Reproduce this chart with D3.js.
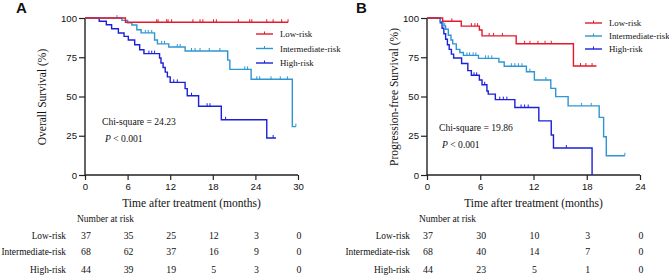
<!DOCTYPE html>
<html>
<head>
<meta charset="utf-8">
<script src="https://cdn.jsdelivr.net/npm/d3@7"></script>
<style>
  body { margin: 0; background: #fff; }
  svg { display: block; }
  .serif { font-family: "Liberation Serif", "Times New Roman", serif; fill: #111; }
  .sans { font-family: "Liberation Sans", Arial, sans-serif; fill: #111; }
</style>
</head>
<body>
<script>
var width = 669
var height = 275

var groups = ["Low-risk", "Intermediate-risk", "High-risk"]
var colors = ["#e3192d", "#2e96d2", "#1c20d8"]
var yTicks = [0, 25, 50, 75, 100]

// panel A: overall survival, steps are [month, survival %]
var osLow = [[0, 100], [5.7, 97.3]]
var osLowEnd = 28.6
var osLowCens = [10.1, 10.3, 11.5, 11.7, 12.2, 15.2, 16.2, 16.6, 18.1, 18.5, 21.6, 23.2, 23.5, 25.6, 26.5, 27.7, 28.6]
var osMid = [[0, 100], [5.2, 98.5], [6.0, 97], [6.6, 95.5], [7.3, 92.5], [7.9, 90.5], [9.8, 86], [10.2, 83.5],
             [11.8, 81.5], [14.1, 79], [20.1, 73.2], [20.4, 67.3], [23.4, 61], [29.2, 30.8]]
var osMidEnd = 29.7
var osMidCens = [4.5, 8.5, 8.9, 9.4, 10.8, 11.2, 13.0, 13.4, 15.0, 15.5, 16.2, 17.5, 19.0, 22.5, 22.9, 24.2, 24.6, 26.2, 27.5, 28.5, 29.7]
var osHigh = [[0, 100], [2.0, 97.9], [3.0, 95.7], [3.75, 93.2], [4.7, 90.4], [5.5, 88.3], [6.1, 86], [7.0, 83],
              [7.7, 79.8], [8.3, 77.3], [10.5, 74.5], [10.7, 71.3], [11.0, 68.5], [11.3, 65.5], [11.6, 62.5],
              [12.0, 59], [14.1, 55], [14.4, 50.5], [16.0, 43.8], [19.2, 35.2], [25.6, 23.6]]
var osHighEnd = 26.9
var osHighCens = [9.0, 9.4, 9.8, 12.5, 13.0, 15.0, 17.2, 17.6, 19.8, 26.5]
var osTicks = [0, 6, 12, 18, 24, 30]
var osRisk = [[37, 35, 25, 12, 3, 0], [68, 62, 37, 16, 9, 0], [44, 39, 19, 5, 3, 0]]

// panel B: progression-free survival
var pfsLow = [[0, 100], [1.76, 97.9], [3.86, 94.8], [5.9, 92.4], [6.2, 88.6], [10.05, 83.6], [16.5, 69.4]]
var pfsLowEnd = 19.1
var pfsLowCens = [2.8, 5.0, 5.4, 5.7, 7.0, 7.5, 8.5, 11.0, 11.6, 12.5, 13.3, 14.0, 17.3, 17.9, 18.6]
var pfsMid = [[0, 100], [1.5, 97.7], [1.8, 95], [2.1, 92.8], [2.4, 89], [2.7, 86], [2.9, 83.5], [3.3, 80],
              [3.7, 78], [4.1, 76.2], [5.8, 74.3], [8.1, 72], [8.7, 69.3], [11.2, 65.8], [12.1, 60.5],
              [13.95, 55.2], [14.5, 49.9], [15.9, 44], [19.4, 36.7], [19.9, 24.4], [20.2, 12.3]]
var pfsMidEnd = 22.3
var pfsMidCens = [2.0, 4.5, 4.8, 5.2, 5.5, 6.6, 6.9, 7.3, 9.5, 9.9, 10.3, 10.7, 11.6, 13.4, 17.4, 18.5, 22.3]
var pfsHigh = [[0, 100], [1.5, 97], [1.7, 93.5], [1.9, 90], [2.1, 86.5], [2.3, 83], [2.5, 80], [2.75, 77],
               [3.0, 74.5], [3.9, 71], [4.6, 66.5], [5.0, 63.5], [5.9, 60.5], [6.2, 57.5], [6.75, 53.5],
               [6.9, 51.5], [7.7, 48], [9.9, 43], [12.6, 34.5], [14.0, 25.5], [14.25, 17.2], [18.6, 0]]
var pfsHighEnd = 18.6
var pfsHighCens = [5.3, 5.6, 6.5, 8.2, 8.6, 9.0, 10.6, 11.0, 11.4, 15.7]
var pfsTicks = [0, 6, 12, 18, 24]
var pfsRisk = [[37, 30, 10, 3, 0], [68, 40, 14, 7, 0], [44, 23, 5, 1, 0]]

var svg = d3.select("body")
    .append("svg")
    .attr("width", width)
    .attr("height", height);

function stepPoints(steps, end) {
    var pts = []
    steps.forEach(function (s, i) {
        if (i > 0) pts.push([s[0], steps[i - 1][1]])
        pts.push(s)
    })
    pts.push([end, steps[steps.length - 1][1]])
    return pts
}

function survAt(steps, t) {
    var v = 100
    steps.forEach(function (s) { if (s[0] <= t) v = s[1] })
    return v
}

function drawPanel(p) {
    var g = svg.append("g")
    var x = d3.scaleLinear().domain([0, p.xMax]).range([p.x0, p.x1])
    var y = d3.scaleLinear().domain([0, 100]).range([175, 18])

    g.append("text").attr("class", "sans")
        .attr("x", p.letterX).attr("y", 13)
        .style("font-size", "15px").style("font-weight", "bold")
        .text(p.letter)

    var yAxis = g.append("g")
        .attr("transform", "translate(" + p.x0 + ",0)")
        .call(d3.axisLeft(y).tickValues(yTicks).tickSize(6).tickPadding(2))
    var xAxis = g.append("g")
        .attr("transform", "translate(0,175)")
        .call(d3.axisBottom(x).tickValues(p.ticks).tickSize(5).tickPadding(3))
    ;[yAxis, xAxis].forEach(function (a) {
        a.select(".domain").attr("stroke", "#222").attr("stroke-width", 1.4)
        a.selectAll(".tick line").attr("stroke", "#222").attr("stroke-width", 1.2)
        a.selectAll(".tick text").attr("class", "sans")
            .style("font-size", "9.6px").attr("fill", "#111")
    })
    yAxis.select(".domain").attr("d", "M0,175V18")
    xAxis.select(".domain").attr("d", "M" + p.x0 + ",0H" + p.x1)

    g.append("text").attr("class", "serif")
        .attr("transform", "translate(" + p.yTitleX + ",97) rotate(-90)")
        .attr("text-anchor", "middle").attr("dy", "0.35em")
        .style("font-size", "11.5px")
        .text(p.yTitle)

    g.append("text").attr("class", "serif")
        .attr("x", (p.x0 + p.x1) / 2).attr("y", 207)
        .attr("text-anchor", "middle")
        .style("font-size", "11.5px")
        .text("Time after treatment (months)")

    var line = d3.line().x(function (d) { return x(d[0]) }).y(function (d) { return y(d[1]) })

    // draw high first so the low-risk curve sits on top
    for (var k = 2; k >= 0; k--) {
        var s = p.series[k]
        g.append("path")
            .attr("d", line(stepPoints(s.steps, s.end)))
            .attr("fill", "none")
            .attr("stroke", colors[k])
            .attr("stroke-width", 1.4)
        g.selectAll(null).data(s.cens).enter().append("line")
            .attr("x1", function (d) { return x(d) })
            .attr("x2", function (d) { return x(d) })
            .attr("y1", function (d) { return y(survAt(s.steps, d)) - 3 })
            .attr("y2", function (d) { return y(survAt(s.steps, d)) })
            .attr("stroke", colors[k])
            .attr("stroke-width", 1)
    }

    // legend
    groups.forEach(function (name, i) {
        var ly = p.legY + i * p.legGap
        g.append("line").attr("x1", p.legX).attr("x2", p.legX + 17)
            .attr("y1", ly).attr("y2", ly)
            .attr("stroke", colors[i]).attr("stroke-width", 1.4)
        g.append("line").attr("x1", p.legX + 8.5).attr("x2", p.legX + 8.5)
            .attr("y1", ly - 2.5).attr("y2", ly)
            .attr("stroke", colors[i]).attr("stroke-width", 1)
        g.append("text").attr("class", "serif")
            .attr("x", p.legX + 24).attr("y", ly + 3)
            .style("font-size", "8.8px")
            .text(name)
    })

    g.append("text").attr("class", "serif")
        .attr("x", p.chiX).attr("y", p.chiY)
        .style("font-size", "9.6px")
        .text("Chi-square = " + p.chi)
    var pt = g.append("text").attr("class", "serif")
        .attr("x", p.chiX + 3).attr("y", p.chiY + 17)
        .style("font-size", "9.6px")
    pt.append("tspan").style("font-style", "italic").text("P")
    pt.append("tspan").text(" < 0.001")

    // number at risk table
    g.append("text").attr("class", "serif")
        .attr("x", p.x0 - 8).attr("y", 222)
        .style("font-size", "9.5px")
        .text("Number at risk")
    var rowY = [239, 255, 273]
    groups.forEach(function (name, i) {
        g.append("text").attr("class", "serif")
            .attr("x", p.rowLabelX).attr("y", rowY[i])
            .attr("text-anchor", "end")
            .style("font-size", "9.4px")
            .text(name)
        g.selectAll(null).data(p.risk[i]).enter().append("text")
            .attr("class", "serif")
            .attr("x", function (d, j) { return x(p.ticks[j]) + 1 })
            .attr("y", rowY[i])
            .attr("text-anchor", "middle")
            .style("font-size", "9.8px")
            .text(function (d) { return d })
    })
}

drawPanel({
    letter: "A", letterX: 16, x0: 85, x1: 298, xMax: 30, ticks: osTicks,
    yTitle: "Overall Survival (%)", yTitleX: 42,
    series: [
        { steps: osLow, end: osLowEnd, cens: osLowCens },
        { steps: osMid, end: osMidEnd, cens: osMidCens },
        { steps: osHigh, end: osHighEnd, cens: osHighCens }
    ],
    legX: 256, legY: 34, legGap: 14.5,
    chi: "24.23", chiX: 102, chiY: 125,
    risk: osRisk, rowLabelX: 66
})

drawPanel({
    letter: "B", letterX: 356, x0: 427, x1: 640, xMax: 24, ticks: pfsTicks,
    yTitle: "Progression-free Survival (%)", yTitleX: 394,
    series: [
        { steps: pfsLow, end: pfsLowEnd, cens: pfsLowCens },
        { steps: pfsMid, end: pfsMidEnd, cens: pfsMidCens },
        { steps: pfsHigh, end: pfsHighEnd, cens: pfsHighCens }
    ],
    legX: 585, legY: 23, legGap: 13,
    chi: "19.86", chiX: 439, chiY: 131,
    risk: pfsRisk, rowLabelX: 410
})
</script>
</body>
</html>
